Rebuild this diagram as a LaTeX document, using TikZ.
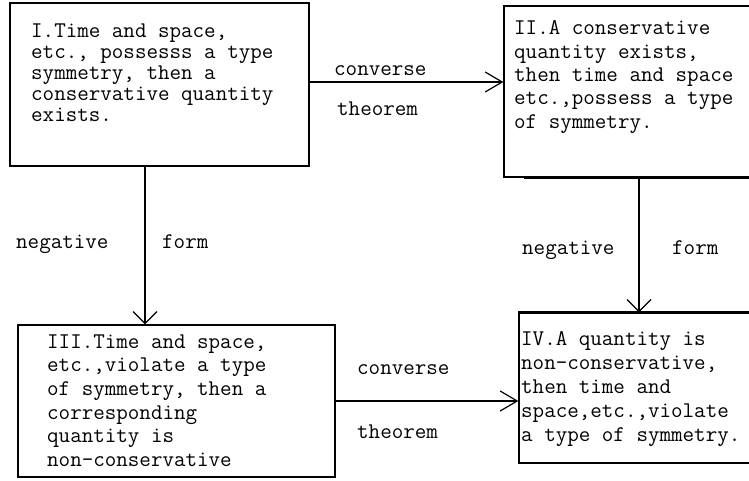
\documentclass[tikz,border=0pt]{standalone}
\usepackage{fontspec}
\usetikzlibrary{arrows.meta}
\begin{document}
\begin{tikzpicture}[x=1pt,y=-1pt,
  box/.style={draw,line width=1.3pt,inner sep=0pt},
  boxtext/.style={anchor=base west,align=left,inner sep=0pt},
  lab/.style={anchor=base west,inner sep=0pt,font=\ttfamily\fontsize{22.4}{21}\selectfont},
  conn/.style={line width=1.2pt,-{Straight Barb[length=17pt,width=20pt,line width=1.2pt]}},
  vconn/.style={line width=1.2pt,-{Straight Barb[length=12pt,width=24pt,line width=1.2pt]}}]
\useasboundingbox (0,0) rectangle (749,480);

%Boxes

\node[box,minimum width=299pt,minimum height=163pt] (boxI) at (159.5,84.5) {};
\node[box,minimum width=256pt,minimum height=171pt] (boxII) at (632,91.5) {};
\node[box,minimum width=317pt,minimum height=152pt] (boxIII) at (176.5,401) {};
\node[box,minimum width=241pt,minimum height=150pt] (boxIV) at (639.5,388) {};

\draw[line width=3pt] ([xshift=21pt]boxII.south west) -- (boxII.south east);
\draw[line width=3pt] (boxIV.north west) -- (boxIV.north east);

%Statements (base = last line)

\node[boxtext,font=\ttfamily\fontsize{22.4}{21}\selectfont] (txtI) at (31,121)
  {I.Time and space,\\etc., possesss a type\\symmetry, then a\\conservative quantity\\exists.};
\node[boxtext,font=\ttfamily\fontsize{22.4}{23.3}\selectfont] (txtII) at (514,128)
  {II.A conservative\\quantity exists,\\then time and space\\etc.,possess a type\\of symmetry.};
\node[boxtext,font=\ttfamily\fontsize{22.4}{23.7}\selectfont] (txtIII) at (47,466.5)
  {III.Time and space,\\etc.,violate a type\\of symmetry, then a\\corresponding\\quantity is\\non-conservative};
\node[boxtext,font=\ttfamily\fontsize{22.4}{24}\selectfont] (txtIV) at (521,441)
  {IV.A quantity is\\non-conservative,\\then time and\\space,etc.,violate\\a type of symmetry.};

%Arrows

\draw[conn] ([yshift=2.5pt]boxI.east) -- ([yshift=2.5pt]boxI.east -| boxII.west);
\draw[conn] (boxIII.east) -- (boxIII.east -| boxIV.west);
\draw[vconn] ([xshift=-14.5pt]boxI.south) -- ([xshift=-14.5pt]boxI.south |- boxIII.north);
\draw[vconn] ([xshift=7pt]boxII.south) -- ([xshift=7pt]boxII.south |- boxIV.north);

%Labels

\node[lab] (convI) at (334,75) {converse};
\node[lab] (theoI) at (337,115) {theorem};
\node[lab] (convII) at (357,374) {converse};
\node[lab] (theoII) at (357,438) {theorem};
\node[lab] (negI) at (16,248) {negative};
\node[lab] (formI) at (162,248) {form};
\node[lab] (negII) at (522,254) {negative};
\node[lab] (formII) at (672,254) {form};

\end{tikzpicture}
\end{document}
